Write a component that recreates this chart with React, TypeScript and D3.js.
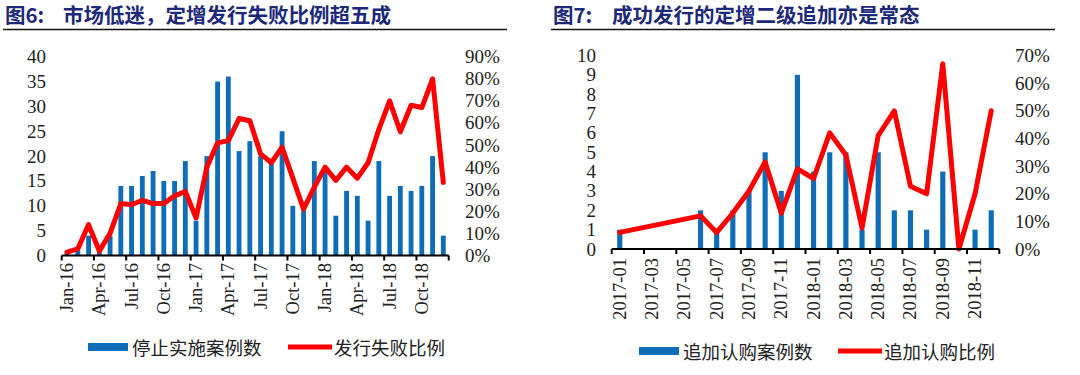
import React from "react";
import * as d3 from "d3";

// 图6 data: monthly, Jan-16 .. Dec-18
const months6 = d3.timeMonths(new Date(2016, 0, 1), new Date(2019, 0, 1));
const stopCounts = [1, 1, 4, 1, 4, 14, 14, 16, 17, 15, 15, 19, 7, 20, 35, 36, 21, 23, 20, 19, 25, 10, 9, 19, 17, 8, 13, 12, 7, 19, 12, 14, 13, 14, 20, 4];
const failRatio = [1.5, 3, 14, 2, 10, 23.5, 23, 25, 23.5, 23.5, 27, 29, 17, 40, 51, 52, 62, 61, 46, 42, 49, 35, 21, 31, 40, 34, 40, 35, 42, 57, 70, 56, 68, 67, 80, 33];
const leftTicks6 = [0, 5, 10, 15, 20, 25, 30, 35, 40];
const rightTicks6 = [0, 10, 20, 30, 40, 50, 60, 70, 80, 90];

// 图7 data: monthly, 2017-01 .. 2018-12 (null = no deal that month)
const months7 = d3.timeMonths(new Date(2017, 0, 1), new Date(2019, 0, 1));
const addCounts = [1, 0, 0, 0, 0, 2, 1, 2, 3, 5, 3, 9, 4, 5, 5, 1, 5, 2, 2, 1, 4, 0, 1, 2];
const addRatio = [6, null, null, null, null, 12, 6, 13, 21, 31.5, 13, 29, 25.5, 42, 34, 7.6, 41, 50, 22.7, 20, 67, 0, 20, 50];
const leftTicks7 = [0, 1, 2, 3, 4, 5, 6, 7, 8, 9, 10];
const rightTicks7 = [0, 10, 20, 30, 40, 50, 60, 70];

const BLUE = "#0f6db8";
const RED = "#ff0000";
const NAVY = "#1c2878";
const SERIF = "'Liberation Serif', 'Times New Roman', serif";
const CJK = "'Noto Sans CJK SC', sans-serif";

function ComboChart(props: any) {
  const { months, counts, ratio, fmt, every, leftTicks, rightTicks, leftMax, rightMax,
    x0, x1, yTop, yBottom, barRatio, leftLabelX, rightLabelX, xLabelY } = props;

  const x = d3.scaleBand<number>()
    .domain(d3.range(months.length))
    .range([x0, x1])
    .padding(0);
  const y = d3.scaleLinear().domain([0, leftMax]).range([yBottom, yTop]);
  const y2 = d3.scaleLinear().domain([0, rightMax]).range([yBottom, yTop]);
  const bw = x.bandwidth() * barRatio;
  const cx = (i: number) => (x(i) as number) + x.bandwidth() / 2;

  const pts = ratio
    .map((v: number | null, i: number) => ({ i, v }))
    .filter((d: any) => d.v !== null);
  const line = d3.line<any>()
    .x((d) => cx(d.i))
    .y((d) => y2(d.v));

  const tickIdx = d3.range(0, months.length + 1, every);

  return (
    <g>
      {counts.map((c: number, i: number) =>
        c > 0 ? (
          <rect key={"b" + i} x={cx(i) - bw / 2} y={y(c)} width={bw} height={yBottom - y(c)} fill={BLUE} />
        ) : null
      )}
      <path d={line(pts) || ""} fill="none" stroke={RED} strokeWidth={5} strokeLinejoin="round" strokeLinecap="round" />
      <line x1={x0} x2={x1} y1={yBottom} y2={yBottom} stroke="#000" strokeWidth={2} />
      {tickIdx.map((t: number) => {
        const tx = t < months.length ? (x(t) as number) : x1;
        return <line key={"t" + t} x1={tx} x2={tx} y1={yBottom} y2={yBottom + 5} stroke="#000" strokeWidth={2} />;
      })}
      {d3.range(0, months.length, every).map((i: number) => (
        <text key={"xl" + i} transform={`translate(${cx(i)},${xLabelY}) rotate(-90)`}
          textAnchor="end" dominantBaseline="central" fontFamily={SERIF} fontSize={18.5} fill="#222">
          {fmt(months[i])}
        </text>
      ))}
      {leftTicks.map((t: number) => (
        <text key={"yl" + t} x={leftLabelX} y={y(t)} textAnchor="end" dominantBaseline="central"
          fontFamily={SERIF} fontSize={19} fill="#222">{t}</text>
      ))}
      {rightTicks.map((t: number) => (
        <text key={"yr" + t} x={rightLabelX} y={y2(t)} textAnchor="start" dominantBaseline="central"
          fontFamily={SERIF} fontSize={19} fill="#222">{t + "%"}</text>
      ))}
    </g>
  );
}

function Legend(props: any) {
  const { x, y, barLabel, lineLabel, lineX } = props;
  return (
    <g>
      <rect x={x} y={y - 4} width={40} height={8} fill={BLUE} />
      <text x={x + 44} y={y} dominantBaseline="central" fontFamily={CJK} fontSize={18.5} fill="#222">{barLabel}</text>
      <line x1={lineX} x2={lineX + 44} y1={y} y2={y} stroke={RED} strokeWidth={5} />
      <text x={lineX + 46} y={y} dominantBaseline="central" fontFamily={CJK} fontSize={18.5} fill="#222">{lineLabel}</text>
    </g>
  );
}

function Title(props: any) {
  const { x, num, text, textX, ruleX1, ruleX2 } = props;
  return (
    <g>
      <text x={x} y={14} dominantBaseline="central" fontFamily={CJK} fontWeight={700} fontSize={20.5} fill={NAVY}>{num}</text>
      <text x={textX} y={14} dominantBaseline="central" fontFamily={CJK} fontWeight={700} fontSize={20.5} fill={NAVY}>{text}</text>
      <line x1={ruleX1} x2={ruleX2} y1={29.5} y2={29.5} stroke="#111" strokeWidth={1.5} />
    </g>
  );
}

export default function App() {
  return (
    <svg width={1080} height={375} style={{ position: "absolute", left: 0, top: 0, background: "#fff" }}>
      <rect width={1080} height={375} fill="#fff" />
      <Title x={5} num="图6:" textX={63} text="市场低迷，定增发行失败比例超五成" ruleX1={3} ruleX2={507} />
      <Title x={553} num="图7:" textX={612} text="成功发行的定增二级追加亦是常态" ruleX1={551} ruleX2={1055} />

      <ComboChart months={months6} counts={stopCounts} ratio={failRatio} fmt={d3.timeFormat("%b-%y")}
        every={3} leftTicks={leftTicks6} rightTicks={rightTicks6} leftMax={40} rightMax={90}
        x0={61.7} x1={448.7} yTop={56.7} yBottom={255.5} barRatio={0.45}
        leftLabelX={46} rightLabelX={465} xLabelY={263} />

      <ComboChart months={months7} counts={addCounts} ratio={addRatio} fmt={d3.timeFormat("%Y-%m")}
        every={2} leftTicks={leftTicks7} rightTicks={rightTicks7} leftMax={10} rightMax={70}
        x0={611.7} x1={999.3} yTop={55.5} yBottom={249} barRatio={0.32}
        leftLabelX={596} rightLabelX={1015} xLabelY={258} />

      <Legend x={88} y={347} barLabel="停止实施案例数" lineLabel="发行失败比例" lineX={288} />
      <Legend x={639} y={351} barLabel="追加认购案例数" lineLabel="追加认购比例" lineX={838} />
    </svg>
  );
}
